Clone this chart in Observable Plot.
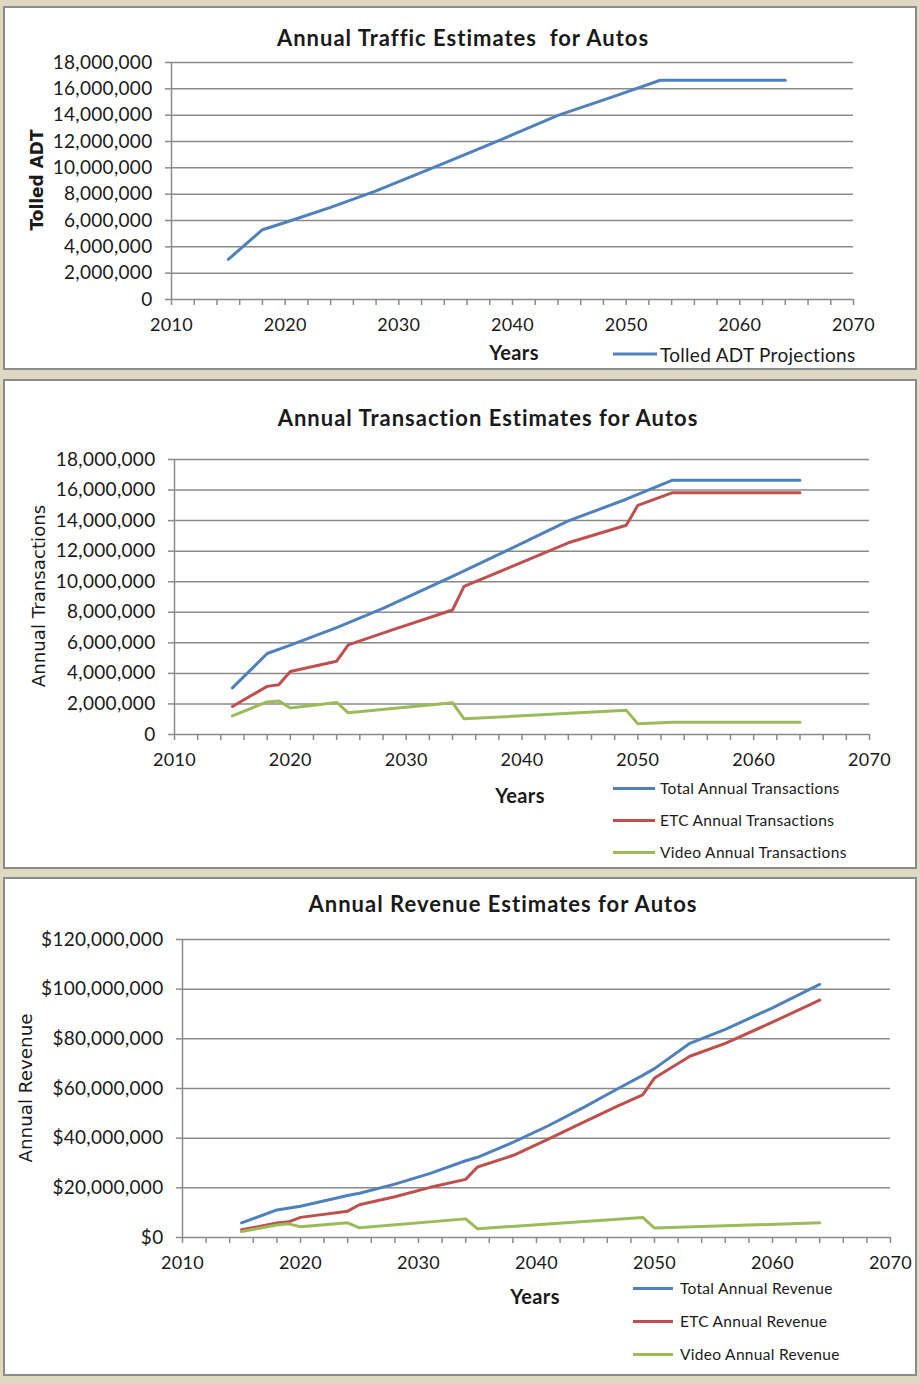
<!DOCTYPE html>
<html><head><meta charset="utf-8">
<script src="https://cdn.jsdelivr.net/npm/d3@7"></script>
<script src="https://cdn.jsdelivr.net/npm/@observablehq/plot@0.6"></script>
<style>
body{margin:0;background:#DDD9C3;}
#root{position:relative;width:920px;height:1384px;background:#DDD9C3;overflow:hidden;font-family:Lato,sans-serif;color:#1a1a1a;}
.panel{position:absolute;box-sizing:border-box;background:#fff;border:2px solid #8c8c8c;}
.chart{position:absolute;left:0;}
.title{position:absolute;transform:translate(-50%,-50%);font-weight:bold;font-size:22px;letter-spacing:1px;white-space:nowrap;}
.xlab{position:absolute;transform:translate(-50%,-50%);font-weight:bold;font-size:20px;letter-spacing:0.4px;white-space:nowrap;}
.ylab{position:absolute;transform:translate(-50%,-50%) rotate(-90deg);font-family:"DejaVu Sans",sans-serif;white-space:nowrap;}
.leg{position:absolute;display:flex;align-items:center;white-space:nowrap;transform:translateY(-50%);letter-spacing:0.3px;}
.leg .sw{display:inline-block;height:3px;margin-right:6px;}
.chart text{letter-spacing:0.3px;}
</style></head>
<body>
<div id="root"></div>
<script>
// ---------- data ----------
const xTickYears = [2010, 2020, 2030, 2040, 2050, 2060, 2070];

const adtYears  = [2015, 2018, 2020, 2024, 2028, 2034, 2039, 2044, 2049, 2053, 2064];
const adtValues = [3050000, 5300000, 5850000, 7000000, 8250000, 10350000, 12150000, 13980000, 15450000, 16650000, 16650000];

const totalTxYears  = [2015, 2018, 2020, 2024, 2028, 2034, 2039, 2044, 2049, 2053, 2064];
const totalTxValues = [3050000, 5300000, 5850000, 7000000, 8250000, 10350000, 12150000, 13980000, 15400000, 16650000, 16650000];
const etcTxYears  = [2015, 2018, 2019, 2020, 2024, 2025, 2029, 2034, 2035, 2039, 2044, 2049, 2050, 2053, 2064];
const etcTxValues = [1830000, 3150000, 3250000, 4120000, 4800000, 5870000, 6900000, 8150000, 9700000, 10950000, 12550000, 13700000, 15000000, 15830000, 15830000];
const videoTxYears  = [2015, 2018, 2019, 2020, 2024, 2025, 2034, 2035, 2049, 2050, 2053, 2064];
const videoTxValues = [1220000, 2130000, 2200000, 1730000, 2100000, 1420000, 2080000, 1030000, 1580000, 700000, 800000, 800000];

const totalRevYears  = [2015, 2018, 2020, 2024, 2025, 2028, 2031, 2034, 2035, 2038, 2041, 2044, 2047, 2049, 2050, 2053, 2056, 2060, 2064];
const totalRevValues = [5900000, 11100000, 12600000, 16900000, 17800000, 21500000, 25800000, 30900000, 32300000, 38300000, 45000000, 52400000, 60200000, 65300000, 68000000, 78200000, 83800000, 92500000, 101900000];
const etcRevYears  = [2015, 2018, 2019, 2020, 2024, 2025, 2028, 2031, 2034, 2035, 2038, 2041, 2044, 2047, 2049, 2050, 2053, 2056, 2060, 2064];
const etcRevValues = [3100000, 5800000, 6300000, 8100000, 10600000, 13200000, 16400000, 20200000, 23400000, 28400000, 33000000, 39600000, 46500000, 53200000, 57400000, 64200000, 73000000, 78200000, 86700000, 95600000];
const videoRevYears  = [2015, 2018, 2019, 2020, 2024, 2025, 2034, 2035, 2049, 2050, 2064];
const videoRevValues = [2400000, 5000000, 5500000, 4300000, 5900000, 3900000, 7500000, 3500000, 8100000, 3800000, 5900000];

const trafficTicks = [0, 2000000, 4000000, 6000000, 8000000, 10000000, 12000000, 14000000, 16000000, 18000000];
const revenueTicks = [0, 20000000, 40000000, 60000000, 80000000, 100000000, 120000000];

const BLUE = "#4F81BD", RED = "#C0504D", GREEN = "#9BBB59";
const GRID = "#8a8a8a";

const rows = (ys, vs) => ys.map((year, i) => ({year, value: vs[i]}));

const root = document.getElementById("root");
function add(html) { root.insertAdjacentHTML("beforeend", html); }

function chart({top, height, ml, mr, mt, mb, ticks, fmt, series}) {
  const minor = d3.range(2010, 2071, 2);
  const p = Plot.plot({
    width: 920, height,
    marginLeft: ml, marginRight: mr, marginTop: mt, marginBottom: mb,
    x: {domain: [2010, 2070], axis: null},
    y: {domain: [0, ticks[ticks.length - 1]], axis: null},
    style: {background: "transparent", fontFamily: "Lato, sans-serif", fontSize: "18px", color: "#1a1a1a"},
    marks: [
      Plot.gridY(ticks.slice(1), {stroke: GRID, strokeOpacity: 1, strokeWidth: 1.5}),
      Plot.axisY({ticks, tickSize: 6, tickPadding: 13, tickFormat: fmt, label: null, stroke: GRID, strokeWidth: 1.5, fontSize: 19}),
      Plot.axisX({ticks: minor, tickSize: 6, tickPadding: 13, tickFormat: d => xTickYears.includes(d) ? String(d) : "", label: null, stroke: GRID, strokeWidth: 1.5, fontSize: 18}),
      Plot.ruleY([0], {stroke: GRID, strokeWidth: 1.5}),
      Plot.ruleX([2010], {stroke: GRID, strokeWidth: 1.5}),
      ...series.map(s => Plot.line(rows(s.years, s.values), {x: "year", y: "value", stroke: s.color, strokeWidth: 3, strokeLinejoin: "round", strokeLinecap: "round"}))
    ]
  });
  p.classList.add("chart");
  p.style.top = top + "px";
  root.appendChild(p);
}

// panel frames
add('<div class="panel" style="left:3px;top:6px;width:914px;height:364px"></div>');
add('<div class="panel" style="left:3px;top:379px;width:914px;height:490px"></div>');
add('<div class="panel" style="left:3px;top:877px;width:914px;height:499px"></div>');

// ---- Panel 1 ----
chart({top: 6, height: 363, ml: 171, mr: 67, mt: 56, mb: 70, ticks: trafficTicks, fmt: d3.format(","),
  series: [{years: adtYears, values: adtValues, color: BLUE}]});
add('<div class="title" style="left:463px;top:37px">Annual Traffic Estimates&nbsp; for Autos</div>');
add('<div class="xlab" style="left:514px;top:352px">Years</div>');
add('<div class="ylab" style="left:37px;top:180px;font-size:17px;font-weight:bold">Tolled ADT</div>');
add(`<div class="leg" style="left:613px;top:354px;font-size:19px"><span class="sw" style="width:44px;background:${BLUE};margin-right:3px"></span>Tolled ADT Projections</div>`);

// ---- Panel 2 ----
chart({top: 379, height: 489, ml: 174, mr: 51, mt: 80, mb: 134, ticks: trafficTicks, fmt: d3.format(","),
  series: [
    {years: totalTxYears, values: totalTxValues, color: BLUE},
    {years: etcTxYears, values: etcTxValues, color: RED},
    {years: videoTxYears, values: videoTxValues, color: GREEN}
  ]});
add('<div class="title" style="left:488px;top:417px">Annual Transaction Estimates for Autos</div>');
add('<div class="xlab" style="left:520px;top:795px">Years</div>');
add('<div class="ylab" style="left:38px;top:596px;font-size:18.2px">Annual Transactions</div>');
const txLegend = [["Total Annual Transactions", BLUE, 788], ["ETC Annual Transactions", RED, 820], ["Video Annual Transactions", GREEN, 852]];
txLegend.forEach(([t, c, y]) => add(`<div class="leg" style="left:613px;top:${y}px;font-size:15.5px"><span class="sw" style="width:42px;background:${c};margin-right:5px"></span>${t}</div>`));

// ---- Panel 3 ----
chart({top: 877, height: 498, ml: 182, mr: 30, mt: 62, mb: 138, ticks: revenueTicks, fmt: d3.format("$,"),
  series: [
    {years: totalRevYears, values: totalRevValues, color: BLUE},
    {years: etcRevYears, values: etcRevValues, color: RED},
    {years: videoRevYears, values: videoRevValues, color: GREEN}
  ]});
add('<div class="title" style="left:503px;top:903px">Annual Revenue Estimates for Autos</div>');
add('<div class="xlab" style="left:535px;top:1296px">Years</div>');
add('<div class="ylab" style="left:25px;top:1088px;font-size:18.3px">Annual Revenue</div>');
const revLegend = [["Total Annual Revenue", BLUE, 1288], ["ETC Annual Revenue", RED, 1321], ["Video Annual Revenue", GREEN, 1354]];
revLegend.forEach(([t, c, y]) => add(`<div class="leg" style="left:633px;top:${y}px;font-size:15.5px"><span class="sw" style="width:40px;background:${c};margin-right:7px"></span>${t}</div>`));
</script>
</body></html>
